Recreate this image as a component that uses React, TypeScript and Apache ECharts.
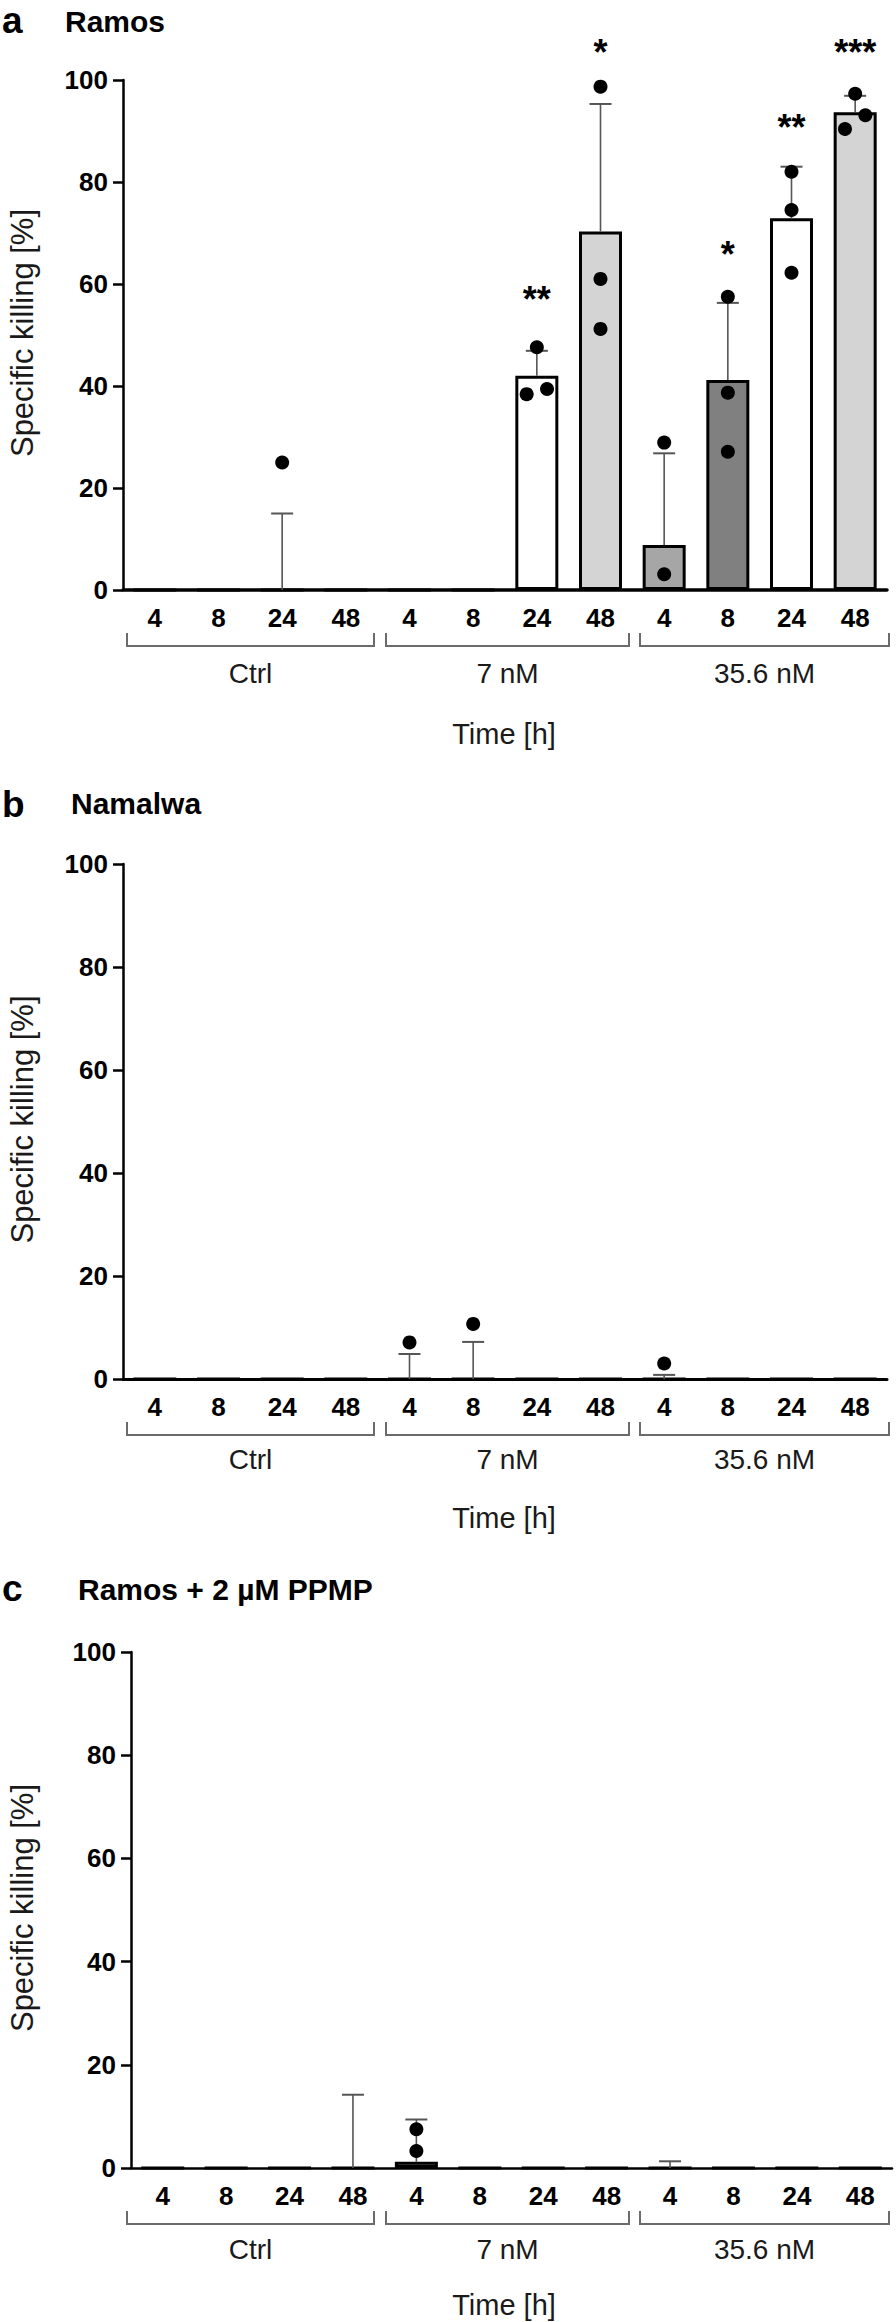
import React, { useEffect, useRef } from "react";
import * as echarts from "echarts";

// ---------- data ----------
const timeLabels = ["4", "8", "24", "48", "4", "8", "24", "48", "4", "8", "24", "48"];
const groupLabels = ["Ctrl", "7 nM", "35.6 nM"];

// Panel a: Ramos
const meanA = [0, 0, 0, 0, 0, 0, 42.0, 70.3, 8.8, 41.2, 72.9, 93.7];
const upperA = [null, null, 15.0, null, null, null, 46.9, 95.3, 26.8, 56.3, 83.0, 96.9];
const pointsA = [
  [2, 25.0, 0],
  [6, 38.4, -0.16], [6, 39.4, 0.16], [6, 47.6, 0],
  [7, 98.7, 0], [7, 61.0, 0], [7, 51.2, 0],
  [8, 28.9, 0], [8, 3.1, 0],
  [9, 57.5, 0], [9, 38.7, 0], [9, 27.1, 0],
  [10, 82.0, 0], [10, 74.5, 0], [10, 62.2, 0],
  [11, 97.3, 0], [11, 90.4, -0.16], [11, 93.1, 0.16],
];
const sigA: [number, string, number][] = [
  [6, "**", 58.6],
  [7, "*", 106.9],
  [9, "*", 67.3],
  [10, "**", 92.3],
  [11, "***", 106.9],
];

// Panel b: Namalwa
const meanB = [0, 0, 0, 0, 0, 0, 0, 0, 0, 0, 0, 0];
const upperB = [null, null, null, null, 4.85, 7.2, null, null, 0.8, null, null, null];
const pointsB = [
  [4, 7.1, 0],
  [5, 10.7, 0],
  [8, 3.0, 0],
];
const sigB: [number, string, number][] = [];

// Panel c: Ramos + 2 µM PPMP
const meanC = [0, 0, 0, 0, 1.2, 0, 0, 0, 0, 0, 0, 0];
const upperC = [null, null, null, 14.2, 9.4, null, null, null, 1.3, null, null, null];
const pointsC = [
  [4, 7.5, 0],
  [4, 3.3, 0],
];
const sigC: [number, string, number][] = [];

// ---------- styling ----------
const FONT = '"Liberation Sans", Arial, Helvetica, sans-serif';
const barFill = [
  "#a6a6a6", "#808080", "#ffffff", "#d4d4d4",
  "#a6a6a6", "#808080", "#ffffff", "#d4d4d4",
  "#a6a6a6", "#808080", "#ffffff", "#d4d4d4",
];
const bracketX: [number, number][] = [
  [127, 374],
  [386, 629],
  [640, 889],
];

const panels = [
  {
    letter: "a", title: "Ramos", grid: { left: 123, top: 80, width: 764, height: 510 },
    mean: meanA, upper: upperA, points: pointsA, sig: sigA, axisW: 3.5,
    letterY: 20.5, titleY: 21.5, titleX: 65, groupOff: 83, timeOff: 144,
  },
  {
    letter: "b", title: "Namalwa", grid: { left: 123, top: 864, width: 764, height: 515 },
    mean: meanB, upper: upperB, points: pointsB, sig: sigB, axisW: 3,
    letterY: 804, titleY: 803.5, titleX: 71, groupOff: 80, timeOff: 139,
  },
  {
    letter: "c", title: "Ramos + 2 µM PPMP", grid: { left: 131, top: 1652, width: 761, height: 516 },
    mean: meanC, upper: upperC, points: pointsC, sig: sigC, axisW: 2.5,
    letterY: 1588, titleY: 1589.5, titleX: 78, groupOff: 81, timeOff: 137,
  },
];

function buildOption() {
  const grids: any[] = [];
  const xAxes: any[] = [];
  const yAxes: any[] = [];
  const series: any[] = [];
  const graphics: any[] = [];

  panels.forEach((p, k) => {
    grids.push({ ...p.grid, containLabel: false, outerBoundsMode: "none" });
    xAxes.push({
      type: "category",
      gridIndex: k,
      data: timeLabels,
      axisLine: { lineStyle: { color: "#000", width: p.axisW } },
      axisTick: { alignWithLabel: true, length: 8, lineStyle: { color: "#000", width: 3 } },
      axisLabel: { color: "#000", fontFamily: FONT, fontWeight: "bold", fontSize: 26, margin: 15, interval: 0 },
      splitLine: { show: false },
    });
    yAxes.push({
      type: "value",
      gridIndex: k,
      min: 0,
      max: 100,
      interval: 20,
      axisLine: { show: true, lineStyle: { color: "#000", width: 2.5 } },
      axisTick: { show: true, length: 10, lineStyle: { color: "#000", width: 2.5 } },
      axisLabel: { color: "#000", fontFamily: FONT, fontWeight: "bold", fontSize: 26, margin: 15 },
      splitLine: { show: false },
    });

    series.push({
      type: "bar",
      xAxisIndex: k,
      yAxisIndex: k,
      barWidth: 43,
      z: 2,
      data: p.mean.map((v, i) => ({
        value: v,
        itemStyle: { color: barFill[i], borderColor: "#000", borderWidth: 3 },
      })),
    });

    const errData: number[][] = [];
    p.upper.forEach((u, i) => {
      if (u !== null) errData.push([i, p.mean[i], u as number]);
    });
    series.push({
      type: "custom",
      xAxisIndex: k,
      yAxisIndex: k,
      z: 3,
      data: errData,
      renderItem: (params: any, api: any) => {
        const idx = api.value(0);
        const a = api.coord([idx, api.value(1)]);
        const b = api.coord([idx, api.value(2)]);
        return {
          type: "group",
          children: [
            { type: "line", shape: { x1: a[0], y1: a[1], x2: b[0], y2: b[1] }, style: { stroke: "#555", lineWidth: 1.6 } },
            { type: "line", shape: { x1: b[0] - 11, y1: b[1], x2: b[0] + 11, y2: b[1] }, style: { stroke: "#555", lineWidth: 2 } },
          ],
        };
      },
    });

    series.push({
      type: "custom",
      xAxisIndex: k,
      yAxisIndex: k,
      z: 4,
      data: p.points,
      renderItem: (params: any, api: any) => {
        const c = api.coord([api.value(0), api.value(1)]);
        const cw = api.size([1, 0])[0];
        return {
          type: "circle",
          shape: { cx: c[0] + api.value(2) * cw, cy: c[1], r: 7 },
          style: { fill: "#000" },
        };
      },
    });

    if (p.sig.length) {
      const sigs = p.sig;
      series.push({
        type: "custom",
        xAxisIndex: k,
        yAxisIndex: k,
        z: 5,
        data: sigs.map((s) => [s[0], s[2]]),
        renderItem: (params: any, api: any) => {
          const c = api.coord([api.value(0), api.value(1)]);
          return {
            type: "text",
            x: c[0],
            y: c[1] + 8,
            style: {
              text: sigs[params.dataIndex][1],
              fontFamily: FONT,
              fontSize: 36,
              fontWeight: "bold",
              fill: "#000",
              align: "center",
              verticalAlign: "middle",
            },
          };
        },
      });
    }

    const g = p.grid;
    const axisY = g.top + g.height;
    // panel letter & title
    graphics.push({
      type: "text", x: 2, y: p.letterY,
      style: { text: p.letter, fontFamily: FONT, fontWeight: "bold", fontSize: 37, fill: "#000", verticalAlign: "middle" },
    });
    graphics.push({
      type: "text", x: p.titleX, y: p.titleY,
      style: { text: p.title, fontFamily: FONT, fontWeight: "bold", fontSize: 30, fill: "#000", verticalAlign: "middle" },
    });
    // y axis title
    graphics.push({
      type: "text", x: 22, y: g.top + g.height / 2 - 2, rotation: Math.PI / 2,
      style: { text: "Specific killing [%]", fontFamily: FONT, fontSize: 31, fill: "#1a1a1a", align: "center", verticalAlign: "middle" },
    });
    // brackets & group labels
    bracketX.forEach((bx, gi) => {
      graphics.push({
        type: "polyline",
        shape: { points: [[bx[0], axisY + 43], [bx[0], axisY + 56], [bx[1], axisY + 56], [bx[1], axisY + 43]] },
        style: { stroke: "#6b6b6b", lineWidth: 2, fill: null },
      });
      graphics.push({
        type: "text", x: (bx[0] + bx[1]) / 2, y: axisY + p.groupOff,
        style: { text: groupLabels[gi], fontFamily: FONT, fontSize: 28, fill: "#1a1a1a", align: "center", verticalAlign: "middle" },
      });
    });
    graphics.push({
      type: "text", x: 504, y: axisY + p.timeOff,
      style: { text: "Time [h]", fontFamily: FONT, fontSize: 29, fill: "#1a1a1a", align: "center", verticalAlign: "middle" },
    });
  });

  return {
    animation: false,
    backgroundColor: "#fff",
    grid: grids,
    xAxis: xAxes,
    yAxis: yAxes,
    series,
    graphic: graphics,
  };
}

export default function App() {
  const ref = useRef<HTMLDivElement>(null);
  useEffect(() => {
    if (!ref.current) return;
    const chart = echarts.init(ref.current, undefined, { renderer: "svg" });
    chart.setOption(buildOption() as any);
    return () => chart.dispose();
  }, []);
  return (
    <div
      ref={ref}
      style={{ position: "absolute", left: 0, top: 0, width: 896, height: 2322, background: "#fff" }}
    />
  );
}
